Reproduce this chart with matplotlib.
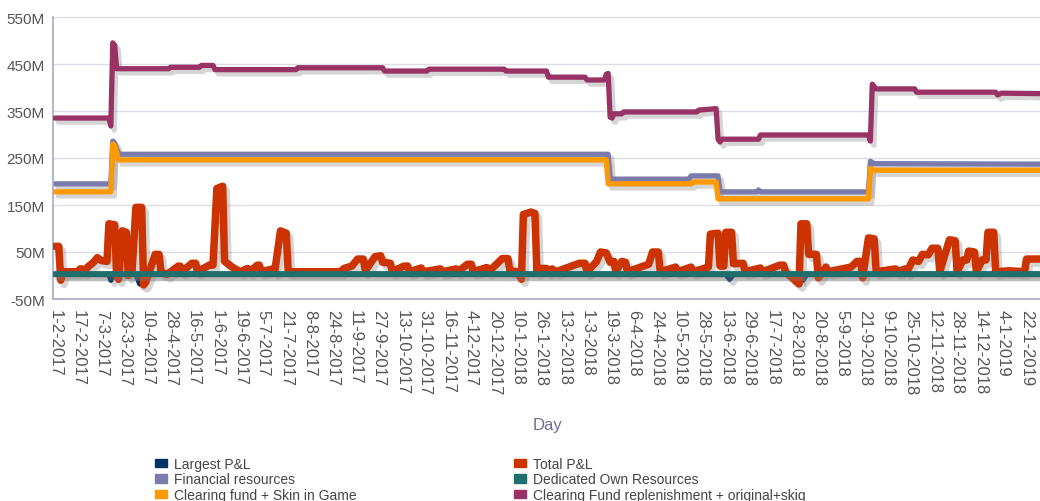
import numpy as np
import matplotlib
matplotlib.use('Agg')
import matplotlib.pyplot as plt
import matplotlib.patheffects as pe
from matplotlib.patches import Patch

plt.rcParams['font.family'] = ['Liberation Sans', 'DejaVu Sans']

# x = business day index since 1-2-2017, values in millions
tick_labels = ['1-2-2017', '17-2-2017', '7-3-2017', '23-3-2017', '10-4-2017', '28-4-2017',
               '16-5-2017', '1-6-2017', '19-6-2017', '5-7-2017', '21-7-2017', '8-8-2017',
               '24-8-2017', '11-9-2017', '27-9-2017', '13-10-2017', '31-10-2017', '16-11-2017',
               '4-12-2017', '20-12-2017', '10-1-2018', '26-1-2018', '13-2-2018', '1-3-2018',
               '19-3-2018', '6-4-2018', '24-4-2018', '10-5-2018', '28-5-2018', '13-6-2018',
               '29-6-2018', '17-7-2018', '2-8-2018', '20-8-2018', '5-9-2018', '21-9-2018',
               '9-10-2018', '25-10-2018', '12-11-2018', '28-11-2018', '14-12-2018', '4-1-2019',
               '22-1-2019']
tick_step = 12

repl_day = [0, 28, 29, 30, 31, 32, 59, 60, 75, 76, 82, 83, 125, 126, 170, 171, 193, 194,
            233, 234, 255, 256, 275, 276, 285, 286, 287, 288, 289, 290, 294, 295, 333, 334,
            343, 344, 345, 346, 365, 366, 422, 423, 424, 426, 446, 447, 488, 489, 491, 511]
repl_val = [335, 335, 318, 495, 490, 440, 440, 443, 443, 447, 447, 438, 438, 442, 442, 435, 435, 439,
            439, 435, 435, 422, 422, 416, 416, 428, 430, 337, 335, 344, 344, 348, 348, 352,
            355, 290, 284, 290, 290, 299, 299, 286, 407, 397, 397, 390, 390, 384, 388, 387]

fin_day = [0, 29, 30, 31, 33, 287, 288, 329, 330, 344, 345, 364, 365, 366, 422, 423, 425, 511]
fin_val = [195, 195, 286, 282, 258, 258, 205, 205, 212, 212, 178, 178, 182, 178, 178, 243, 238, 237]

cf_day = [0, 29, 30, 31, 33, 286, 287, 330, 331, 343, 344, 422, 423, 425, 511]
cf_val = [178, 178, 280, 276, 246, 246, 195, 195, 199, 199, 163, 163, 228, 224, 224]

pnl_day = [0, 2, 3, 4, 12, 13, 14, 15, 17, 20, 22, 24, 27, 28, 31, 32, 33, 35, 37, 38, 40, 42, 45,
           46, 47, 49, 52, 54, 55, 58, 64, 65, 66, 71, 73, 74, 80, 82, 84, 87, 88, 92, 96, 100,
           101, 105, 106, 107, 113, 114, 117, 120, 121, 148, 150, 154, 157, 160, 161, 166, 169,
           170, 174, 175, 181, 183, 184, 190, 191, 200, 201, 208, 209, 214, 216, 217, 224, 225,
           232, 235, 236, 240, 242, 243, 247, 249, 250, 252, 255, 256, 258, 260, 272, 275, 276,
           281, 283, 286, 288, 290, 291, 294, 296, 297, 308, 310, 313, 314, 322, 323, 330, 331,
           339, 340, 344, 345, 347, 348, 351, 352, 357, 358, 366, 367, 376, 378, 379, 386, 387,
           390, 391, 395, 396, 400, 401, 413, 416, 418, 419, 422, 425, 426, 436, 437, 441, 442,
           445, 448, 450, 453, 455, 458, 459, 464, 467, 468, 471, 473, 474, 477, 478, 481, 483,
           484, 487, 488, 495, 503, 504, 511]
pnl_val = [62, 62, -10, 8, 8, 14, 14, 8, 18, 28, 38, 32, 30, 110, 108, 0, -8, 95, 92, 0, 8, 145, 145,
           -20, -15, 8, 45, 45, 8, 2, 20, 20, 8, 26, 26, 8, 22, 22, 185, 190, 30, 18, 8, 15,
           8, 22, 22, 8, 14, 8, 95, 90, 8, 8, 15, 20, 35, 35, 10, 40, 42,
           28, 26, 8, 20, 20, 8, 16, 8, 14, 8, 14, 8, 24, 24, 8, 17, 8,
           36, 36, 10, 8, -8, 130, 135, 132, 8, 15, 15, 8, 14, 8, 26, 26, 8,
           30, 50, 48, 28, 30, 8, 30, 28, 8, 24, 50, 50, 8, 18, 8, 18, 8,
           18, 88, 90, 20, 20, 92, 92, 25, 26, 8, 16, 8, 22, 22, 8, -18, 110,
           110, 45, 45, -5, 18, 8, 18, 30, 30, -5, 80, 78, 8, 14, 8, 14, 8,
           33, 30, 45, 44, 58, 58, 8, 76, 74, 8, 33, 33, 52, 50, 8, 33, 33,
           92, 92, 8, 10, 8, 35, 35]

largest_day = [0, 28, 29, 31, 42, 44, 46, 348, 350, 352, 386, 388, 390, 511]
largest_val = [2, 2, -10, 2, 2, -18, 2, 2, -8, 2, 2, -10, 2, 2]

own_day = [0, 511]
own_val = [3, 3]

fig = plt.figure(figsize=(10.4, 5.02), dpi=100)
ax = fig.add_axes([53 / 1040, 1 - 300 / 502, 1 - 53 / 1040, (300 - 18) / 502])

shadow = [pe.SimpleLineShadow(offset=(2.5, -3), shadow_color='#888888', alpha=0.35), pe.Normal()]
series = [
    (fin_day, fin_val, '#7b7bad', 3.8, 2),
    (cf_day, cf_val, '#ff9900', 3.8, 3),
    (repl_day, repl_val, '#993366', 3.8, 3),
    (largest_day, largest_val, '#003366', 3.8, 4),
    (pnl_day, pnl_val, '#cc3300', 5.4, 5),
    (own_day, own_val, '#1f6f6c', 4.2, 6),
]
for d, v, c, w, z in series:
    ax.plot(d, v, color=c, lw=w, zorder=z, solid_joinstyle='round', solid_capstyle='round',
            path_effects=shadow)

ax.set_xlim(-1, 511)
ax.set_ylim(-50, 550)
ax.set_yticks(np.arange(-50, 551, 100))
ax.set_yticklabels(['%dM' % t for t in np.arange(-50, 551, 100)])
ax.set_xticks(np.arange(len(tick_labels)) * tick_step)
ax.set_xticklabels(tick_labels, rotation=-90, fontsize=12, color='#555555')
ax.tick_params(axis='y', length=0, pad=6, labelsize=11, labelcolor='#555555')
ax.tick_params(axis='x', length=0, pad=7)
ax.grid(axis='y', color='#dcdce8', lw=1)
ax.set_axisbelow(True)
for s in ['top', 'right']:
    ax.spines[s].set_visible(False)
for s in ['left', 'bottom']:
    ax.spines[s].set_color('#a8a8c4')
    ax.spines[s].set_linewidth(1.2)

fig.text(548 / 1040, 1 - 426 / 502, 'Day', ha='center', va='center', fontsize=12, color='#6b6b9b')

handles = [Patch(color='#003366', label='Largest P&L'),
           Patch(color='#7b7bad', label='Financial resources'),
           Patch(color='#ff9900', label='Clearing fund + Skin in Game'),
           Patch(color='#cc3300', label='Total P&L'),
           Patch(color='#1f6f6c', label='Dedicated Own Resources'),
           Patch(color='#993366', label='Clearing Fund replenishment + original+skig')]
fig.legend(handles=handles, ncol=2, loc='upper left', bbox_to_anchor=(148 / 1040, 1 - 451 / 502),
           frameon=False, fontsize=10, handlelength=0.9, handleheight=0.55, handletextpad=0.5,
           labelspacing=0.1, columnspacing=11.3, borderpad=0, labelcolor='#444444')

plt.savefig('out.png', dpi=100)
